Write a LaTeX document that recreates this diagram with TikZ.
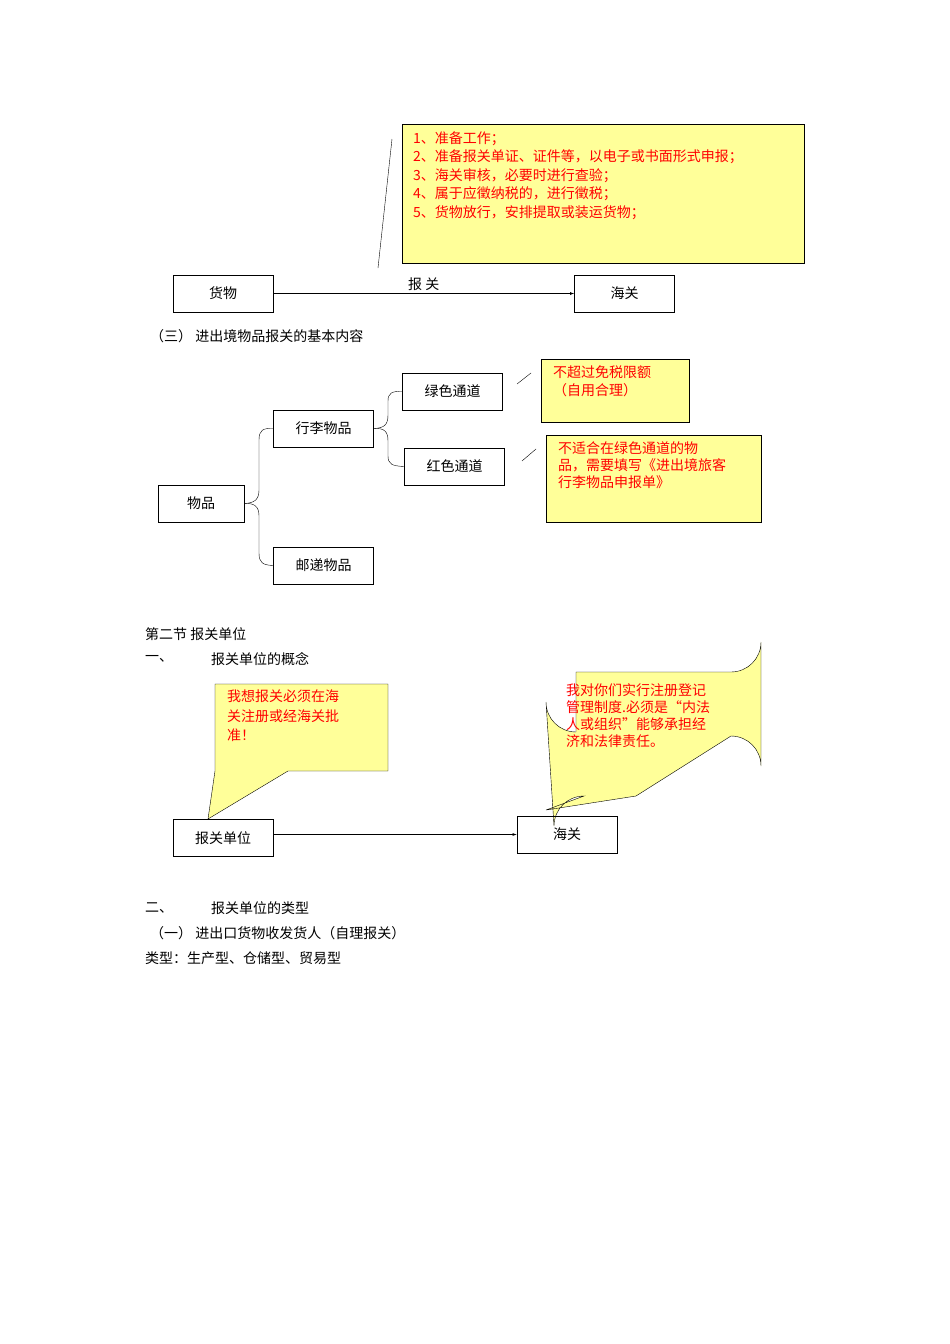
\documentclass[tikz,border=0pt]{standalone}
\usepackage{fontspec}
\setmainfont{Noto Sans CJK SC}
\begin{document}
\begin{tikzpicture}[x=1pt,y=-1pt,
  every node/.style={font=\fontsize{14}{18}\selectfont},
  bx/.style={draw,thick,minimum width=100pt,minimum height=37pt,inner sep=0pt},
  note/.style={draw,fill=yellow!50!white!90!yellow,text=red,align=left,anchor=north west,inner sep=0pt},
  txt/.style={anchor=west,inner sep=0pt},
  >=latex]
\useasboundingbox (0,0) rectangle (950,1344);
\definecolor{ny}{HTML}{FFFF99}
% top
\filldraw[draw=black,fill=ny] (402,124) rectangle (804,263);
\node[txt,text=red,anchor=north west,align=left,font=\fontsize{14}{18.6}\selectfont] (n1) at (413,131) {1、准备工作；\\2、准备报关单证、证件等，以电子或书面形式申报；\\3、海关审核，必要时进行查验；\\4、属于应徵纳税的，进行徵税；\\5、货物放行，安排提取或装运货物；};
\coordinate (l1a) at (392,139); \coordinate (l1b) at (378,268);
\draw (l1a) -- (l1b);
\node[bx] (hw) at (223,293.5) {货物};
\node[bx] (hg) at (624.5,293.5) {海关};
\draw[->] (hw) -- node[above=3pt,inner sep=0pt] {报 关} (hg);
\node[txt] (t3) at (150,336) {（三） 进出境物品报关的基本内容};
% tree
\node[bx,minimum width=86pt] (wp) at (201,503.5) {物品};
\node[bx] (xl) at (323.5,428.5) {行李物品};
\node[bx] (yd) at (323.5,565.5) {邮递物品};
\node[bx] (lv) at (452.5,391.5) {绿色通道};
\node[bx] (hs) at (454.5,466.5) {红色通道};
\draw (wp.east) .. controls (254,503) and (259,500) .. (259,490) -- (259,440) .. controls (259,430) and (263,428) .. (xl.west);
\draw (wp.east) .. controls (254,503) and (259,506) .. (259,516) -- (259,553) .. controls (259,563) and (263,565) .. (yd.west);
\draw (xl.east) .. controls (384,428) and (388,425) .. (388,415) -- (388,401) .. controls (388,393) and (392,391) .. (lv.west);
\draw (xl.east) .. controls (384,428) and (388,431) .. (388,441) -- (388,456) .. controls (388,464) and (392,466) .. (hs.west);
\filldraw[draw=black,fill=ny] (541,359) rectangle (689,422);
\node[txt,text=red,anchor=north west,align=left] (n2) at (553,365) {不超过免税限额\\（自用合理）};
\filldraw[draw=black,fill=ny] (546,435) rectangle (761,522);
\node[txt,text=red,anchor=north west,align=left,font=\fontsize{14}{17}\selectfont] (n3) at (558,441) {不适合在绿色通道的物\\品，需要填写《进出境旅客\\行李物品申报单》};
\coordinate (c1) at (517,384); \coordinate (c2) at (531,373);
\coordinate (c3) at (522,461); \coordinate (c4) at (536,449);
\draw (c1) -- (c2); \draw (c3) -- (c4);
% section 2
\node[txt] (s2) at (145,634) {第二节 报关单位};
\node[txt] (s21) at (145,659) {一、};
\node[txt] (s22) at (211,659) {报关单位的概念};
\filldraw[draw=black,fill=ny] (215,684) -- (388,684) -- (388,771) -- (288,771) -- (208,819) -- (215,771) -- cycle;
\node[txt,text=red,anchor=north west,align=left,font=\fontsize{14}{19.5}\selectfont] (n4) at (227,690) {我想报关必须在海\\关注册或经海关批\\准！};
\filldraw[draw=black,fill=ny] (576,672) -- (731,672) arc (-90:0:30 and -30) -- (761,766) arc (0:90:30 and -30) -- (636,796) -- (546,810) -- (584,796) arc (90:180:30 and -30) -- (546,702) arc (180:270:30 and -30) -- cycle;
\node[txt,text=red,anchor=north west,align=left,font=\fontsize{14}{17}\selectfont] (n5) at (566,683) {我对你们实行注册登记\\管理制度.必须是“内法\\人或组织”能够承担经\\济和法律责任。};
\node[bx] (bd) at (223,838) {报关单位};
\node[bx] (hg2) at (567,834.5) {海关};
\draw[->] (bd.east |- hg2) -- (hg2.west);
\node[txt] (s31) at (145,908) {二、};
\node[txt] (s32) at (211,908) {报关单位的类型};
\node[txt] (s33) at (150,933) {（一） 进出口货物收发货人（自理报关）};
\node[txt] (s34) at (145,958) {类型：生产型、仓储型、贸易型};
\end{tikzpicture}
\end{document}
